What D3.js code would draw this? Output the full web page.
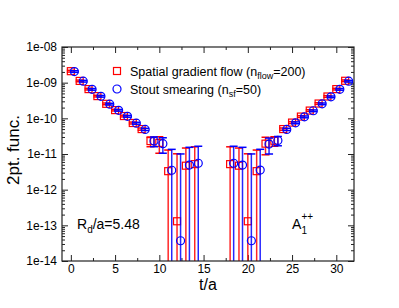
<!DOCTYPE html>
<html>
<head>
<meta charset="utf-8">
<script src="https://cdn.jsdelivr.net/npm/d3@7"></script>
<style>
  body { margin: 0; background: #fff; }
  text { font-family: "Liberation Sans", Arial, Helvetica, sans-serif; fill: #000; }
</style>
</head>
<body>
<div id="chart"></div>
<script>
// time slices (t/a) that have data
const tSlices = [0,1,2,3,4,5,6,7,8,9,10,11,12,13,14,18,19,20,21,22,23,24,25,26,27,28,29,30,31];

// spatial gradient flow (n_flow=200)
const flowVals = [2.1e-9,1.12e-9,6.6e-10,4.2e-10,2.55e-10,1.7e-10,1.16e-10,7.4e-11,5.0e-11,2.3e-11,2.05e-11,3.3e-12,1.3e-13,4.7e-12,5.2e-12,
                  5.2e-12,4.7e-12,1.3e-13,3.3e-12,1.95e-11,2.35e-11,5.0e-11,7.6e-11,1.12e-10,1.65e-10,2.6e-10,4.1e-10,6.6e-10,1.13e-9];
const flowErrs = [1.2e-10,6e-11,3.5e-11,2.2e-11,1.4e-11,9e-12,6.5e-12,4.5e-12,3.5e-12,7e-12,1.0e-11,9.6e-12,1.0e-11,1.0e-11,1.07e-11,
                  1.07e-11,1.0e-11,1.0e-11,9.6e-12,1.0e-11,7e-12,3.5e-12,4.5e-12,6.5e-12,9e-12,1.4e-11,2.2e-11,3.5e-11,6e-11];

// stout smearing (n_sf=50)
const stoutVals = [2.05e-9,1.1e-9,6.5e-10,4.15e-10,2.5e-10,1.68e-10,1.14e-10,7.3e-11,4.9e-11,2.3e-11,1.95e-11,3.5e-12,3.7e-14,4.9e-12,5.5e-12,
                   5.5e-12,4.9e-12,3.7e-14,3.55e-12,1.9e-11,2.4e-11,4.9e-11,7.5e-11,1.1e-10,1.63e-10,2.55e-10,4.0e-10,6.5e-10,1.1e-9];
const stoutErrs = [1.1e-10,6e-11,3.5e-11,2.2e-11,1.4e-11,9e-12,6.5e-12,4.5e-12,3.5e-12,7e-12,9e-12,1.0e-11,1.0e-11,1.05e-11,1.1e-11,
                   1.1e-11,1.05e-11,1.0e-11,1.0e-11,9e-12,7e-12,3.5e-12,4.5e-12,6.5e-12,9e-12,1.4e-11,2.2e-11,3.5e-11,6e-11];

const xMajor = [0,5,10,15,20,25,30];
const xMinor = [2.5,7.5,12.5,17.5,22.5,27.5];
const yMajor = [1e-14,1e-13,1e-12,1e-11,1e-10,1e-9,1e-8];
const yTickLabels = ["1e-14","1e-13","1e-12","1e-11","1e-10","1e-09","1e-08"];

const stoutShift = 0.4;

const margin = {top: 47, right: 45, bottom: 47, left: 62},
    width = 399 - margin.left - margin.right,
    height = 308 - margin.top - margin.bottom;

const svg = d3.select("#chart")
    .append("svg")
    .attr("width", 399)
    .attr("height", 308)
    .append("g")
    .attr("transform", "translate(" + margin.left + "," + margin.top + ")");

const x = d3.scaleLinear().domain([-1, 32]).range([0, width]);
const y = d3.scaleLog().domain([1e-14, 1e-8]).range([height, 0]);

// minor log ticks
const yMinor = [];
yMajor.slice(0, -1).forEach(d => { for (let k = 2; k <= 9; k++) yMinor.push(d * k); });

function styleAxis(g) {
    g.select(".domain").remove();
    g.selectAll(".tick line").attr("stroke", "#222").attr("stroke-width", 1);
    g.selectAll("text").attr("font-size", 12).attr("font-family", "Liberation Sans, Arial, sans-serif");
}

// left
svg.append("g").call(d3.axisLeft(y).tickValues(yMajor).tickSize(-6).tickPadding(5)
    .tickFormat((d, i) => yTickLabels[i])).call(styleAxis);
svg.append("g").call(d3.axisLeft(y).tickValues(yMinor).tickSize(-3).tickFormat("")).call(styleAxis);
// right
svg.append("g").attr("transform", `translate(${width},0)`)
    .call(d3.axisRight(y).tickValues(yMajor).tickSize(-6).tickFormat("")).call(styleAxis);
svg.append("g").attr("transform", `translate(${width},0)`)
    .call(d3.axisRight(y).tickValues(yMinor).tickSize(-3).tickFormat("")).call(styleAxis);
// bottom
svg.append("g").attr("transform", `translate(0,${height})`)
    .call(d3.axisBottom(x).tickValues(xMajor).tickSize(-6).tickPadding(3)).call(styleAxis);
svg.append("g").attr("transform", `translate(0,${height})`)
    .call(d3.axisBottom(x).tickValues(xMinor).tickSize(-3).tickFormat("")).call(styleAxis);
// top
svg.append("g").call(d3.axisTop(x).tickValues(xMajor).tickSize(-6).tickFormat("")).call(styleAxis);
svg.append("g").call(d3.axisTop(x).tickValues(xMinor).tickSize(-3).tickFormat("")).call(styleAxis);

svg.append("defs").append("clipPath").attr("id", "clip")
    .append("rect").attr("width", width).attr("height", height);

const plot = svg.append("g").attr("clip-path", "url(#clip)");

function drawSeries(vals, errs, shift, color, shape) {
    const data = tSlices.map((t, i) => ({t: t + shift, v: vals[i], e: errs[i]}));
    const yLow = d => d.v - d.e > 0 ? y(d.v - d.e) : height + 5;
    const g = plot.append("g");
    g.selectAll("line.bar").data(data).join("line")
        .attr("x1", d => x(d.t)).attr("x2", d => x(d.t))
        .attr("y1", d => y(d.v + d.e)).attr("y2", yLow)
        .attr("stroke", color).attr("stroke-width", 1.5).attr("stroke-opacity", 0.85);
    g.selectAll("line.capTop").data(data).join("line")
        .attr("x1", d => x(d.t) - 4).attr("x2", d => x(d.t) + 4)
        .attr("y1", d => y(d.v + d.e)).attr("y2", d => y(d.v + d.e))
        .attr("stroke", color).attr("stroke-width", 1.5);
    g.selectAll("line.capBot").data(data.filter(d => d.v - d.e > 0)).join("line")
        .attr("x1", d => x(d.t) - 4).attr("x2", d => x(d.t) + 4)
        .attr("y1", d => y(d.v - d.e)).attr("y2", d => y(d.v - d.e))
        .attr("stroke", color).attr("stroke-width", 1.5);
    if (shape === "square") {
        g.selectAll("rect").data(data).join("rect")
            .attr("x", d => x(d.t) - 3.5).attr("y", d => y(d.v) - 3.5)
            .attr("width", 7).attr("height", 7)
            .attr("fill", "none").attr("stroke", color).attr("stroke-width", 1.2);
    } else {
        g.selectAll("circle").data(data).join("circle")
            .attr("cx", d => x(d.t)).attr("cy", d => y(d.v)).attr("r", 4)
            .attr("fill", "none").attr("stroke", color).attr("stroke-width", 1.2);
    }
}

drawSeries(flowVals, flowErrs, 0, "#ff0000", "square");
drawSeries(stoutVals, stoutErrs, stoutShift, "#0000ff", "circle");

// frame
svg.append("rect").attr("width", width).attr("height", height)
    .attr("fill", "none").attr("stroke", "#222").attr("stroke-width", 1.2);

// legend
const leg = svg.append("g").attr("transform", "translate(55,24)");
leg.append("rect").attr("x", -3.5).attr("y", -3.5).attr("width", 7).attr("height", 7)
    .attr("fill", "none").attr("stroke", "#ff0000").attr("stroke-width", 1.2);
leg.append("circle").attr("cx", 0).attr("cy", 18).attr("r", 4)
    .attr("fill", "none").attr("stroke", "#0000ff").attr("stroke-width", 1.2);
const t1 = leg.append("text").attr("x", 13).attr("y", 4.5).attr("font-size", 12.5);
t1.append("tspan").text("Spatial gradient flow (n");
t1.append("tspan").attr("dy", 3.5).attr("font-size", 9).text("flow");
t1.append("tspan").attr("dy", -3.5).text("=200)");
const t2 = leg.append("text").attr("x", 13).attr("y", 22.5).attr("font-size", 12.5);
t2.append("tspan").text("Stout smearing (n");
t2.append("tspan").attr("dy", 3.5).attr("font-size", 9).text("sf");
t2.append("tspan").attr("dy", -3.5).text("=50)");

// annotations
const r = svg.append("text").attr("x", 15).attr("y", 182).attr("font-size", 14);
r.append("tspan").text("R");
r.append("tspan").attr("dy", 4).attr("font-size", 10).text("d");
r.append("tspan").attr("dy", -4).text("/a=5.48");

const a = svg.append("text").attr("x", 230).attr("y", 182).attr("font-size", 14);
a.append("tspan").text("A");
a.append("tspan").attr("x", 239.5).attr("dy", 5).attr("font-size", 10).text("1");
a.append("tspan").attr("x", 239.5).attr("dy", -14).attr("font-size", 10).text("++");

// axis labels
svg.append("text")
    .attr("text-anchor", "middle")
    .attr("transform", "rotate(-90)")
    .attr("x", -103)
    .attr("y", -43)
    .attr("font-size", 17)
    .text("2pt. func.");

svg.append("text")
    .attr("text-anchor", "middle")
    .attr("x", width / 2)
    .attr("y", height + 29)
    .attr("font-size", 16)
    .text("t/a");
</script>
</body>
</html>
